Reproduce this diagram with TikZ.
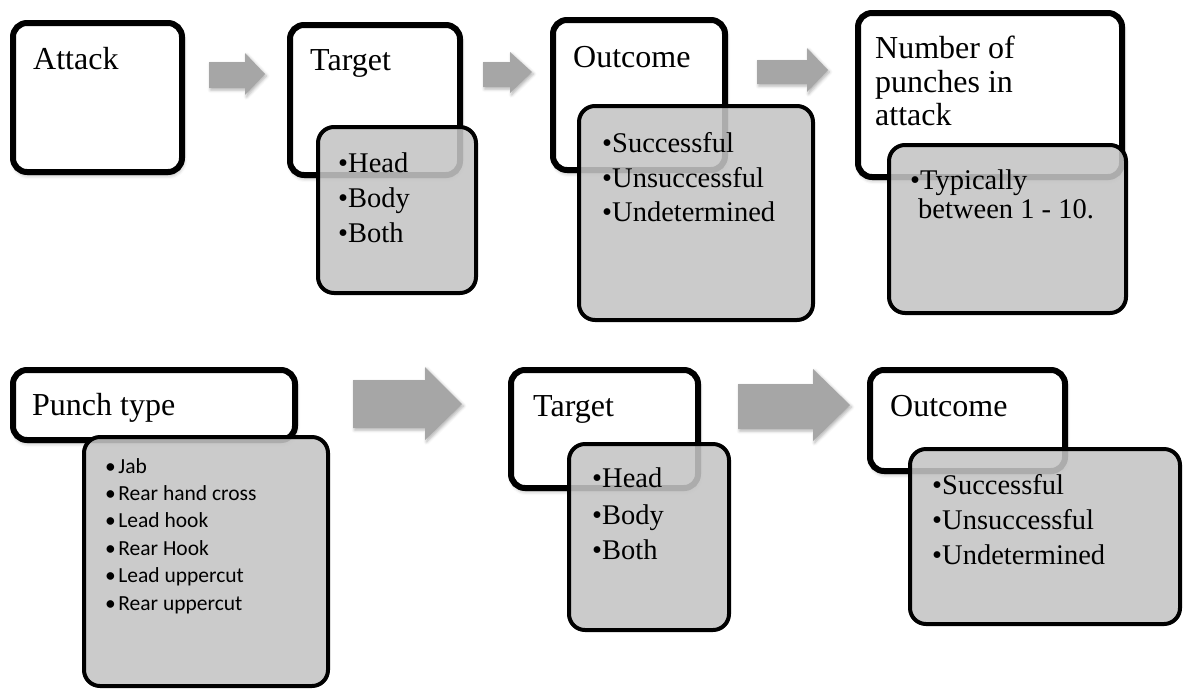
\documentclass[tikz,border=0pt]{standalone}
\usepackage{fontspec}
\setmainfont{Liberation Serif}
\newfontfamily\listsans{Carlito}
\usetikzlibrary{shadows.blur}
\definecolor{arrowgray}{HTML}{A6A6A6}
\definecolor{boxgray}{HTML}{C4C4C4}
\newcommand{\sbul}{•\hspace{2.5pt}}

\begin{document}
\begin{tikzpicture}[x=1pt,y=-1pt,
  whitebox/.style={draw=black, line width=6pt, fill=white, rounded corners=14pt,
    anchor=north west, inner sep=0pt, outer sep=0pt,
    blur shadow={shadow xshift=1pt, shadow yshift=-3pt, shadow blur radius=4pt, shadow opacity=35}},
  graybox/.style={draw=black, line width=4pt, fill=boxgray, fill opacity=0.88,
    rounded corners=16pt, anchor=north west, inner sep=0pt, outer sep=0pt},
  blockarrow/.style={fill=arrowgray,
    blur shadow={shadow xshift=1.5pt, shadow yshift=-2pt, shadow blur radius=3pt, shadow opacity=30}},
  title/.style={anchor=base west, inner sep=0pt, font=\fontsize{32}{35}\selectfont},
  item/.style={anchor=base west, inner sep=0pt, font=\fontsize{28.5}{32}\selectfont},
  sitem/.style={anchor=base west, inner sep=0pt, font=\listsans\fontsize{21.5}{24}\selectfont}]

\useasboundingbox (0,0) rectangle (1185,689);

% ---------- top row ----------
\node[whitebox, minimum width=169pt, minimum height=149pt] (attack) at (13,23) {};
\node[title] (attackT) at (33,69) {Attack};

\fill[blockarrow] (209,62) -- (245,62) -- (245,53) -- (265,74) -- (245,95) -- (245,88) -- (209,88) -- cycle;

\node[whitebox, minimum width=170pt, minimum height=150pt] (target) at (290,25) {};
\node[title] (targetT) at (310,70) {Target};
\node[graybox, minimum width=158pt, minimum height=166pt] (targetL) at (318,127) {};
\node[item] (t1) at (338,172) {•Head};
\node[item] (t2) at (338,207) {•Body};
\node[item] (t3) at (338,242) {•Both};

\fill[blockarrow] (483,62) -- (510,62) -- (510,52) -- (532,72) -- (510,93) -- (510,87) -- (483,87) -- cycle;

\node[whitebox, minimum width=172pt, minimum height=150pt] (outcome) at (553,20) {};
\node[title] (outcomeT) at (573,67) {Outcome};
\node[graybox, minimum width=234pt, minimum height=214pt] (outcomeL) at (579,106) {};
\node[item] (o1) at (602,152) {•Successful};
\node[item] (o2) at (602,187) {•Unsuccessful};
\node[item] (o3) at (602,221) {•Undetermined};

\fill[blockarrow] (757,60) -- (807,60) -- (807,48) -- (828,70) -- (807,92) -- (807,84) -- (757,84) -- cycle;

\node[whitebox, minimum width=264pt, minimum height=164pt] (number) at (858,13) {};
\node[title] (numberT1) at (875,58) {Number of};
\node[title] (numberT2) at (875,92) {punches in};
\node[title] (numberT3) at (875,125) {attack};
\node[graybox, minimum width=237pt, minimum height=168pt] (numberL) at (889,145) {};
\node[item] (n1) at (910,189) {•Typically};
\node[item] (n2) at (918,218) {between 1 - 10.};

% ---------- bottom row ----------
\node[whitebox, minimum width=282pt, minimum height=70pt] (punch) at (13,370) {};
\node[title] (punchT) at (32,415) {Punch type};
\node[graybox, minimum width=244pt, minimum height=249pt] (punchL) at (84,437) {};
\node[sitem] (p1) at (105,473) {\sbul Jab};
\node[sitem] (p2) at (105,500) {\sbul Rear hand cross};
\node[sitem] (p3) at (105,527) {\sbul Lead hook};
\node[sitem] (p4) at (105,555) {\sbul Rear Hook};
\node[sitem] (p5) at (105,582) {\sbul Lead uppercut};
\node[sitem] (p6) at (105,610) {\sbul Rear uppercut};

\fill[blockarrow] (353,380) -- (425,380) -- (425,367) -- (462,404) -- (425,440) -- (425,428) -- (353,428) -- cycle;

\node[whitebox, minimum width=187pt, minimum height=118pt] (target2) at (511,370) {};
\node[title] (target2T) at (533,416) {Target};
\node[graybox, minimum width=160pt, minimum height=186pt] (target2L) at (569,444) {};
\node[item] (u1) at (592,487) {•Head};
\node[item] (u2) at (592,524) {•Body};
\node[item] (u3) at (592,559) {•Both};

\fill[blockarrow] (738,384) -- (813,384) -- (813,369) -- (850,405) -- (813,441) -- (813,429) -- (738,429) -- cycle;

\node[whitebox, minimum width=195pt, minimum height=101pt] (outcome2) at (870,370) {};
\node[title] (outcome2T) at (890,416) {Outcome};
\node[graybox, minimum width=270pt, minimum height=175pt] (outcome2L) at (910,449) {};
\node[item] (v1) at (932,494) {•Successful};
\node[item] (v2) at (932,529) {•Unsuccessful};
\node[item] (v3) at (932,564) {•Undetermined};

\end{tikzpicture}
\end{document}
